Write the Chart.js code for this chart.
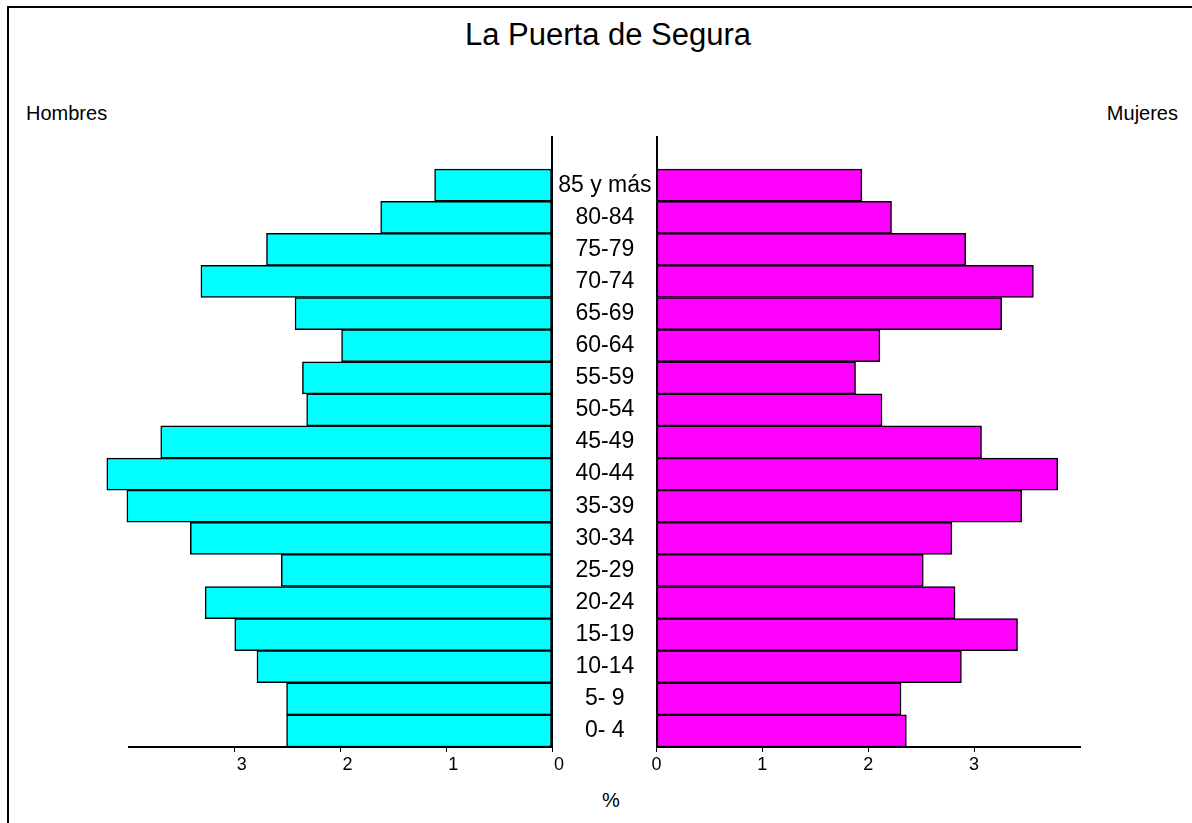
<!DOCTYPE html>
<html>
<head>
<meta charset="utf-8">
<script src="https://cdn.jsdelivr.net/npm/chart.js@4.4.0/dist/chart.umd.min.js"></script>
<style>
  html, body { margin: 0; padding: 0; background: #fff; width: 1192px; height: 823px; overflow: hidden; }
  body { position: relative; font-family: "Liberation Sans", Arial, sans-serif; color: #000; }
  #frame { position: absolute; left: 7px; top: 6px; width: 1300px; height: 900px; border-left: 2px solid #000; border-top: 2px solid #000; }
  .txt { position: absolute; white-space: nowrap; }
  canvas { position: absolute; }
</style>
</head>
<body>
<div id="frame"></div>
<div class="txt" style="left:0; width:1216px; text-align:center; top:19px; font-size:31px; line-height:31px;">La Puerta de Segura</div>
<div class="txt" style="left:26px; top:103px; font-size:20px; line-height:20px;">Hombres</div>
<div class="txt" style="right:14px; top:103px; font-size:20px; line-height:20px;">Mujeres</div>
<div class="txt" style="left:561px; width:100px; text-align:center; top:790px; font-size:20px; line-height:20px;">%</div>
<canvas id="left" width="600" height="823" style="left:0; top:0;"></canvas>
<canvas id="right" width="692" height="823" style="left:500px; top:0;"></canvas>
<script>
// Age groups, top to bottom (first entry is the empty slot above the oldest group)
const ageGroups = ['', '85 y más', '80-84', '75-79', '70-74', '65-69', '60-64', '55-59', '50-54',
  '45-49', '40-44', '35-39', '30-34', '25-29', '20-24', '15-19', '10-14', '5- 9', '0- 4'];
// Percent of population, same order
const hombres = [null, 1.11, 1.62, 2.70, 3.32, 2.43, 1.99, 2.36, 2.32,
  3.70, 4.21, 4.02, 3.42, 2.56, 3.28, 3.00, 2.79, 2.51, 2.51];
const mujeres = [null, 1.94, 2.22, 2.92, 3.56, 3.26, 2.11, 1.88, 2.13,
  3.07, 3.79, 3.45, 2.79, 2.52, 2.82, 3.41, 2.88, 2.31, 2.36];
const xTickMax = 4;

const FONT = '"Liberation Sans", Arial, sans-serif';
Chart.defaults.font.family = FONT;
Chart.defaults.color = '#000';

function xScale(reverse, labelOffset) {
  return {
    type: 'linear', position: 'bottom', reverse: reverse,
    min: 0, max: xTickMax,
    ticks: { stepSize: 1, font: { size: 18 }, color: '#000', padding: 2, labelOffset: labelOffset, maxRotation: 0 },
    afterBuildTicks: s => { s.ticks = s.ticks.filter(t => t.value < xTickMax); },
    afterFit: s => { s.height = 40; },
    grid: { display: true, drawOnChartArea: false, drawTicks: true, tickLength: 5, color: '#000', lineWidth: 1 },
    border: { display: true, color: '#000', width: 2 }
  };
}

function barDataset(data, color) {
  return {
    data: data, backgroundColor: color, borderColor: '#000', borderWidth: 1.5,
    borderSkipped: false, barPercentage: 1, categoryPercentage: 1, clip: false
  };
}

const common = {
  indexAxis: 'y', responsive: false, animation: false, devicePixelRatio: 1,
  plugins: { legend: { display: false }, tooltip: { enabled: false }, title: { display: false } }
};

new Chart(document.getElementById('left'), {
  type: 'bar',
  data: { labels: ageGroups, datasets: [barDataset(hombres, '#00FFFF')] },
  options: Object.assign({}, common, {
    layout: { padding: { left: 129, right: 48, top: 137, bottom: 36 } },
    scales: {
      x: xScale(true, 7),
      y: {
        type: 'category', position: 'right',
        ticks: { display: false },
        grid: { display: false, drawTicks: false },
        border: { display: true, color: '#000', width: 2 },
        afterFit: s => { s.width = 0; }
      }
    }
  })
});

new Chart(document.getElementById('right'), {
  type: 'bar',
  data: { labels: ageGroups, datasets: [barDataset(mujeres, '#FF00FF')] },
  options: Object.assign({}, common, {
    layout: { padding: { left: 52, right: 112, top: 137, bottom: 36 } },
    scales: {
      x: xScale(false, 0),
      y: {
        type: 'category', position: 'left',
        ticks: { font: { size: 23 }, color: '#000', crossAlign: 'center', padding: 5, autoSkip: false },
        grid: { display: false, drawTicks: false },
        border: { display: true, color: '#000', width: 2 },
        afterFit: s => { s.width = 104.5; }
      }
    }
  })
});
</script>
</body>
</html>
